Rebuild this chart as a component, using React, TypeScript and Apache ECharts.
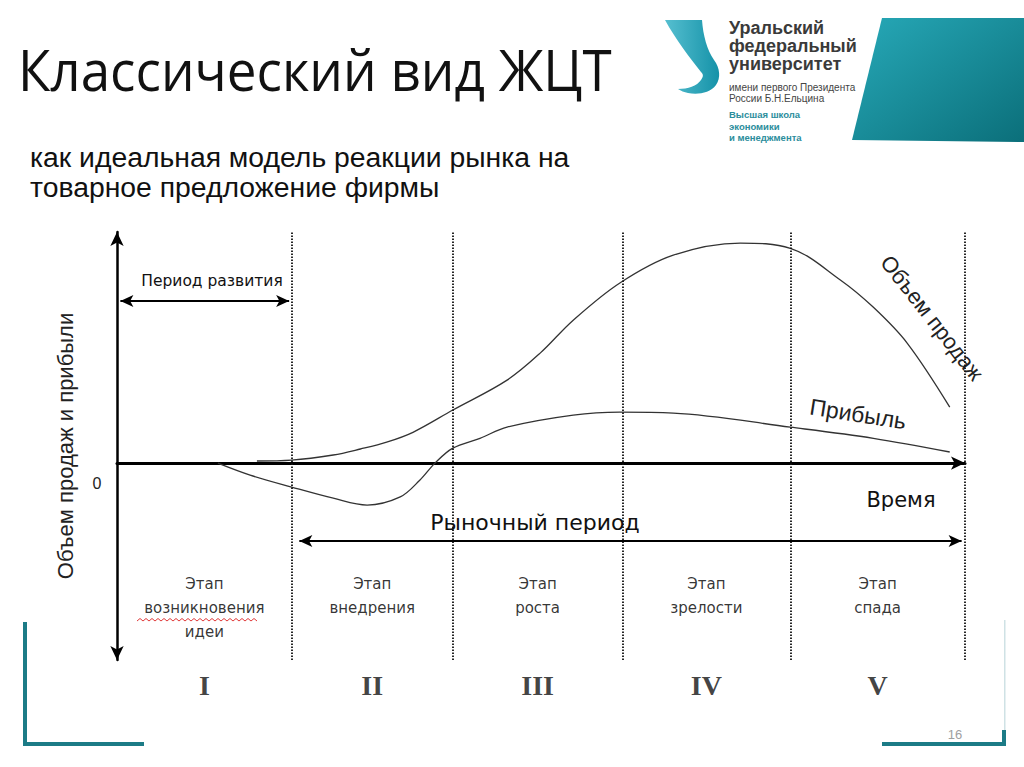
import React, { useEffect, useRef } from "react";
import * as echarts from "echarts";

// ---- data ----
const stageBounds = [20.6, 39.6, 59.6, 79.4, 100];
const stageNames = [
  "Этап\nвозникновения\nидеи",
  "Этап\nвнедрения",
  "Этап\nроста",
  "Этап\nзрелости",
  "Этап\nспада",
];
const stageNumerals = ["I", "II", "III", "IV", "V"];

const salesX = [16.5, 20.6, 25.5, 28.7, 31.8, 34.9, 39.6, 46.0, 49.9, 53.8, 59.3, 65.6, 73.5, 79.4, 85.3, 89.2, 93.2, 98.2];
const salesY = [0.5, 0.7, 1.9, 3.3, 4.9, 7.2, 12.4, 19.4, 25.7, 33.4, 42.1, 48.6, 51.4, 50.2, 42.8, 36.4, 28.0, 13.1];

const profitX = [11.9, 15.7, 20.6, 25.5, 29.5, 33.4, 35.7, 37.5, 39.6, 42.8, 46.0, 53.8, 59.3, 65.6, 79.4, 89.2, 98.2];
const profitY = [0, -2.8, -5.6, -8.2, -9.8, -7.9, -4.0, 0, 3.5, 5.8, 8.4, 11.2, 11.9, 11.7, 8.4, 5.8, 2.6];

// ---- layout constants ----
const X_MIN = 0, X_MAX = 100, Y_MIN = -46, Y_MAX = 54;
const DEV_ARROW_Y = 37.9;
const MARKET_ARROW_Y = -18.2;
const STAGE_LABEL_Y = -25.5;
const NUMERAL_Y = -51.9;

const TEAL = "#1c7b86";

const logoPath =
  "M665 20 L702 20 C703 35 707 50 714 60 C720 68 721 78 716 85 C710 93 698 95 688 93 C684 92 681 91 678 89 C688 89 697 86 701 80 C704 76 703 74 701 72 C690 58 676 40 665 20 Z";
echarts.graphic.registerShape("ufuLogo", echarts.graphic.extendPath(logoPath, {}));

function txt(text: string, x: number, y: number, font: string, fill: string, extra: any = {}) {
  const { align, lineHeight, ...rest } = extra;
  return {
    type: "text",
    x,
    y,
    silent: true,
    ...rest,
    style: {
      text,
      font,
      fill,
      align: align || "left",
      verticalAlign: "middle",
      textAlign: align || "left",
      textVerticalAlign: "middle",
      lineHeight,
    },
  };
}

export default function App() {
  const ref = useRef<HTMLDivElement>(null);
  useEffect(() => {
    if (!ref.current) return;
    const chart = echarts.init(ref.current, null, { renderer: "svg" });

    const stageCenters = stageBounds.map((b, i) => ((i === 0 ? X_MIN : stageBounds[i - 1]) + b) / 2);

    const zig: number[][] = [];
    for (let x = 137, k = 0; x <= 258; x += 3, k++) zig.push([x, k % 2 === 0 ? 621 : 618.5]);

    const option: any = {
      animation: false,
      backgroundColor: "#ffffff",
      grid: { left: 117, right: 59, top: 232, bottom: 107, containLabel: false },
      xAxis: {
        type: "value",
        min: X_MIN,
        max: X_MAX,
        axisLine: {
          onZero: true,
          symbol: ["none", "arrow"],
          symbolSize: [10, 14],
          lineStyle: { color: "#000", width: 3 },
        },
        axisTick: { show: false },
        axisLabel: { show: false },
        splitLine: { show: false },
      },
      yAxis: {
        type: "value",
        min: Y_MIN,
        max: Y_MAX,
        name: "Объем продаж и прибыли",
        nameLocation: "middle",
        nameRotate: 90,
        nameGap: 41,
        nameTextStyle: { fontFamily: "Liberation Sans", fontSize: 22, color: "#222" },
        axisLine: {
          symbol: ["arrow", "arrow"],
          symbolSize: [10, 14],
          lineStyle: { color: "#000", width: 2.5 },
        },
        axisTick: { show: false },
        axisLabel: { show: false },
        splitLine: { show: false },
      },
      series: [
        {
          name: "Объем продаж",
          type: "line",
          smooth: 0.35,
          symbol: "none",
          lineStyle: { color: "#333", width: 1.3 },
          data: salesX.map((x, i) => [x, salesY[i]]),
          markLine: {
            silent: true,
            symbol: ["none", "none"],
            label: { show: false },
            lineStyle: { color: "#111", width: 1.8, type: [1.6, 1.4] },
            data: stageBounds.map((v) => ({ xAxis: v })),
          },
          z: 3,
        },
        {
          name: "Прибыль",
          type: "line",
          smooth: 0.35,
          symbol: "none",
          lineStyle: { color: "#333", width: 1.3 },
          data: profitX.map((x, i) => [x, profitY[i]]),
          markLine: {
            silent: true,
            symbol: ["arrow", "arrow"],
            symbolSize: [9, 13],
            label: { show: false },
            lineStyle: { color: "#000", width: 2, type: "solid" },
            data: [
              [{ coord: [X_MIN + 0.4, DEV_ARROW_Y] }, { coord: [stageBounds[0] - 0.3, DEV_ARROW_Y] }],
              [{ coord: [stageBounds[0] + 0.9, MARKET_ARROW_Y] }, { coord: [stageBounds[4] - 0.4, MARKET_ARROW_Y] }],
            ],
          },
          z: 3,
        },
        {
          name: "stages",
          type: "scatter",
          symbolSize: 0,
          clip: false,
          silent: true,
          data: stageCenters.map((c, i) => ({ value: [c, STAGE_LABEL_Y], name: stageNames[i] })),
          label: {
            show: true,
            position: "bottom",
            distance: 0,
            formatter: (p: any) => p.name,
            fontFamily: "DejaVu Sans",
            fontSize: 15,
            lineHeight: 24,
            color: "#000",
            align: "center",
          },
        },
        {
          name: "numerals",
          type: "scatter",
          symbolSize: 0,
          clip: false,
          silent: true,
          data: stageCenters.map((c, i) => ({ value: [c, NUMERAL_Y], name: stageNumerals[i] })),
          label: {
            show: true,
            position: "inside",
            formatter: (p: any) => p.name,
            fontFamily: "Liberation Serif",
            fontWeight: "bold",
            fontSize: 28,
            color: "#111",
          },
        },
      ],
      graphic: [
        // title + subtitle
        txt("Классический вид ЖЦТ", 18, 69, '57px "Open Sans"', "#111", { scaleX: 0.93 }),
        txt("как идеальная модель реакции рынка на\nтоварное предложение фирмы", 30, 173, '27px "Liberation Sans"', "#111", { lineHeight: 30, scaleX: 1.05 }),
        // logo
        {
          type: "ufuLogo",
          x: 0,
          y: 0,
          silent: true,
          style: {
            fill: new echarts.graphic.LinearGradient(0, 0, 1, 0, [
              { offset: 0, color: "#56bfd0" },
              { offset: 1, color: "#1592a8" },
            ]),
          },
        },
        txt("Уральский", 729, 28, 'bold 18px "Liberation Sans"', "#3a3a3a"),
        txt("федеральный", 729, 46, 'bold 18px "Liberation Sans"', "#3a3a3a"),
        txt("университет", 729, 64, 'bold 18px "Liberation Sans"', "#3a3a3a"),
        txt("имени первого Президента", 729, 87, '10px "Liberation Sans"', "#444"),
        txt("России Б.Н.Ельцина", 729, 98, '10px "Liberation Sans"', "#444"),
        txt("Высшая школа", 729, 114, 'bold 9.5px "Liberation Sans"', "#2b8d9c"),
        txt("экономики", 729, 126, 'bold 9.5px "Liberation Sans"', "#2b8d9c"),
        txt("и менеджмента", 729, 137, 'bold 9.5px "Liberation Sans"', "#2b8d9c"),
        {
          type: "polygon",
          silent: true,
          shape: { points: [[882, 18], [1024, 18], [1024, 142], [852, 140]] },
          style: {
            fill: new echarts.graphic.LinearGradient(0, 0, 1, 1, [
              { offset: 0, color: "#27a9b8" },
              { offset: 1, color: "#0b6f7a" },
            ]),
          },
        },
        // chart annotations
        txt("Период развития", 212, 281, '15.5px "DejaVu Sans"', "#111", { align: "center" }),
        txt("Рыночный период", 535, 522, '22px "DejaVu Sans"', "#111", { align: "center" }),
        txt("Время", 901, 500, '21px "DejaVu Sans"', "#111", { align: "center" }),
        txt("0", 97, 483, '16px "Liberation Sans"', "#222", { align: "center" }),
        txt("Объем продаж", 932, 318, '22px "Liberation Sans"', "#222", { align: "center", rotation: (-52 * Math.PI) / 180 }),
        txt("Прибыль", 858, 414, '23px "Liberation Sans"', "#222", { align: "center", rotation: (-9 * Math.PI) / 180 }),
        {
          type: "polyline",
          silent: true,
          shape: { points: zig },
          style: { stroke: "#e03a3a", lineWidth: 1, fill: "none" },
        },
        // slide decorations
        { type: "rect", silent: true, shape: { x: 23, y: 622, width: 4, height: 124 }, style: { fill: TEAL } },
        { type: "rect", silent: true, shape: { x: 23, y: 742, width: 121, height: 4 }, style: { fill: TEAL } },
        { type: "rect", silent: true, shape: { x: 1004, y: 620, width: 1.5, height: 112 }, style: { fill: "#cfe2e5" } },
        { type: "rect", silent: true, shape: { x: 882, y: 742, width: 124, height: 4 }, style: { fill: TEAL } },
        { type: "rect", silent: true, shape: { x: 1002, y: 730, width: 4, height: 16 }, style: { fill: TEAL } },
        txt("16", 955, 734, '13px "Liberation Sans"', "#a0a0a0", { align: "center" }),
      ],
    };

    chart.setOption(option);
    return () => chart.dispose();
  }, []);

  return (
    <div
      ref={ref}
      style={{ position: "fixed", left: 0, top: 0, width: 1024, height: 767, background: "#fff" }}
    />
  );
}
